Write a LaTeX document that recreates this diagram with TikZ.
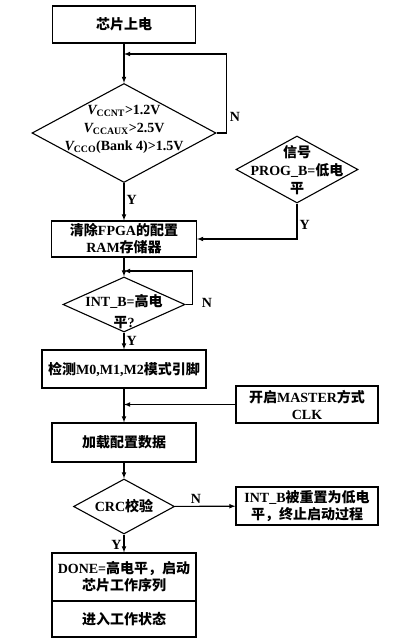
\documentclass[tikz,border=0pt]{standalone}
\usepackage{fontspec}
\setmainfont{Liberation Serif}
\newfontfamily\cjk{Noto Sans CJK SC}
\usetikzlibrary{shapes,arrows}
\tikzstyle{arrow} = [line width=1.1pt,->,>=latex]
\tikzstyle{block} = [draw,line width=1.1pt,rectangle,align=center,minimum width=144pt,
                     minimum height=37pt,inner sep=0.5ex,font=\bfseries\fontsize{14}{17}\selectfont]
\tikzstyle{decision} = [draw,line width=1.1pt,diamond,inner sep=0pt]
\tikzstyle{txt} = [align=center,inner sep=0pt,font=\bfseries\fontsize{14}{18}\selectfont]
\tikzstyle{lab} = [inner sep=2pt,font=\bfseries\fontsize{14}{17}\selectfont]

\begin{document}
\begin{tikzpicture}[x=1pt,y=-1pt]
\useasboundingbox (0,0) rectangle (400,644);
% main column
\node[block,minimum width=143pt] (power) at (124,24.5) {{\cjk 芯片上电}};
\node[decision,minimum width=184pt,minimum height=99pt] (vcc) at (124,133) {};
\node[txt] (vcctext) at (124,129)
    {{\itshape V}\textsubscript{CCNT}>1.2V\\
     {\itshape V}\textsubscript{CCAUX}>2.5V\\
     {\itshape V}\textsubscript{CCO}(Bank 4)>1.5V};
\node[block,minimum width=145pt,minimum height=36pt] (clear) at (124,239)
    {{\cjk 清除}FPGA{\cjk 的配置}\\RAM{\cjk 存储器}};
\node[decision,minimum width=122pt,minimum height=55pt] (intb) at (124,304.5) {};
\node[txt] (intbtext) at (124,312) {INT\_B={\cjk 高电}\\[3pt]{\cjk 平}?};
\node[block,minimum width=164pt,minimum height=38pt] (detect) at (124,369)
    {{\cjk 检测}M0,M1,M2{\cjk 模式引脚}};
\node[block,minimum height=39pt] (load) at (124,442.5) {{\cjk 加载配置数据}};
\node[decision,minimum width=101pt,minimum height=55pt] (crc) at (124,506.5) {};
\node[txt] (crctext) at (124,506.5) {CRC{\cjk 校验}};
\node[block,minimum height=48pt] (done) at (124,577)
    {DONE={\cjk 高电平，启动}\\{\cjk 芯片工作序列}};
\node[block,minimum height=36pt] (work) at (124,619) {{\cjk 进入工作状态}};
% right column
\node[decision,minimum width=122pt,minimum height=67pt] (prog) at (297,169.5) {};
\node[txt] (progtext) at (297,170) {{\cjk 信号}\\PROG\_B={\cjk 低电}\\{\cjk 平}};
\node[block,minimum width=142pt] (master) at (307,404.5) {{\cjk 开启}MASTER{\cjk 方式}\\CLK};
\node[block,minimum width=142pt,minimum height=38pt] (reset) at (307,506)
    {INT\_B{\cjk 被重置为低电}\\{\cjk 平，终止启动过程}};
% joins
\coordinate (loopa) at (124,54);
\coordinate (loopb) at (124,271);
% connectors
\draw[arrow] (power) -- (vcc);
\draw[arrow] (vcc.east) -- ++(10,0) |- (loopa);
\node[lab] (n1) at (235,117) {N};
\draw[arrow] (vcc) -- node[lab,right,pos=0.45] (y1) {Y} (clear);
\draw[arrow] (prog) |- node[lab,right,pos=0.3] (y2) {Y} (clear);
\draw[arrow] (clear) -- (intb);
\draw[arrow] (intb.east) -- ++(7,0) |- (loopb);
\node[lab] (n3) at (207,303) {N};
\draw[arrow] (intb) -- node[lab,right] (y3) {Y} (detect);
\draw[arrow] (detect) -- (load);
\draw[arrow] (master.west) -- (master.west -| load);
\draw[arrow] (load) -- (crc);
\draw[arrow] (crc) -- node[lab,above,pos=0.35] (n4) {N} (reset);
\draw[arrow] (crc) -- node[lab,left,pos=0.6] (y4) {Y} (done);
\end{tikzpicture}
\end{document}
